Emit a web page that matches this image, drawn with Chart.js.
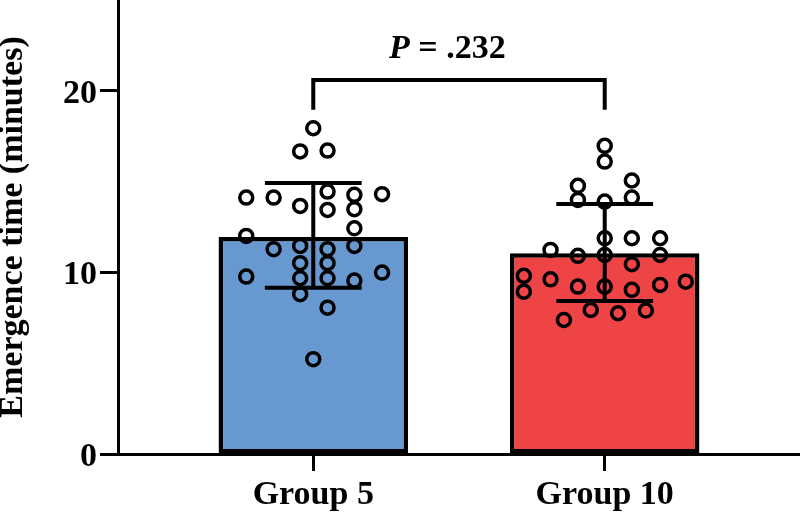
<!DOCTYPE html>
<html>
<head>
<meta charset="utf-8">
<script src="https://cdn.jsdelivr.net/npm/chart.js@4.4.1/dist/chart.umd.min.js"></script>
<style>
    html, body { margin: 0; padding: 0; background: #fff; }
    #wrap { width: 800px; height: 516px; }
</style>
</head>
<body>
<div id="wrap"><canvas id="emergenceChart" width="800" height="516"></canvas></div>
<script>
// Data
const groups = ['Group 5', 'Group 10'];
const groupPos = [1, 2];
const means = [11.95, 11.06];
const errHigh = [14.92, 13.77];
const errLow = [9.16, 8.43];
const barColors = ['#6898d0', '#ee4446'];

const group5Values = [17.94, 16.66, 16.71, 14.12, 14.12, 13.66, 14.45, 13.44, 14.27, 13.48, 14.31, 12.43, 12.01, 11.28,
    11.46, 11.28, 11.46, 10.51, 10.51, 9.77, 9.68, 9.68, 9.99, 9.55, 8.80, 8.06, 5.22];
const group5Jitter = [0, -0.045, 0.049, -0.23, -0.136, -0.045, 0.049, 0.049, 0.141, 0.141, 0.236, 0.141, -0.23, -0.136,
    -0.045, 0.049, 0.141, -0.045, 0.049, -0.23, -0.045, 0.049, 0.236, 0.141, -0.045, 0.049, 0];

const group10Values = [16.97, 16.10, 14.77, 13.99, 15.06, 14.12, 13.90, 11.88, 11.88, 11.88, 11.24, 10.91, 10.96, 10.96,
    10.45, 9.81, 8.94, 9.62, 9.22, 9.22, 9.04, 9.31, 9.49, 7.38, 7.93, 7.75, 7.90];
const group10Jitter = [0, 0, -0.092, -0.092, 0.093, 0.093, 0, 0, 0.093, 0.19, -0.186, -0.092, 0, 0.19,
    0.093, -0.2775, -0.2775, -0.186, -0.092, 0, 0.093, 0.19, 0.278, -0.14, -0.048, 0.046, 0.141];

const yTicks = [0, 10, 20];
const pText = '= .232';
const bracketTop = 20.6;
const bracketBottom = 18.95;

const FONT = '"Liberation Serif", "Times New Roman", serif';

function toPoints(values, jitter, center) {
    return values.map((v, i) => ({ x: center + jitter[i], y: v }));
}

// Error bars (mean +/- SD) drawn right after the bars
const errorBarPlugin = {
    id: 'errorBars',
    afterDatasetDraw(chart, args) {
        if (args.index !== 0) return;
        const ctx = chart.ctx;
        const xs = chart.scales.x;
        const ys = chart.scales.y;
        ctx.save();
        ctx.strokeStyle = '#000';
        ctx.lineWidth = 4;
        ctx.lineCap = 'butt';
        groupPos.forEach((g, i) => {
            const cx = xs.getPixelForValue(g);
            const capL = xs.getPixelForValue(g - 0.166);
            const capR = xs.getPixelForValue(g + 0.166);
            const yHi = ys.getPixelForValue(errHigh[i]);
            const yLo = ys.getPixelForValue(errLow[i]);
            ctx.beginPath();
            ctx.moveTo(cx, yHi);
            ctx.lineTo(cx, yLo);
            ctx.moveTo(capL, yHi);
            ctx.lineTo(capR, yHi);
            ctx.moveTo(capL, yLo);
            ctx.lineTo(capR, yLo);
            ctx.stroke();
        });
        ctx.restore();
    }
};

// Significance bracket with P value
const bracketPlugin = {
    id: 'bracket',
    afterDraw(chart) {
        const ctx = chart.ctx;
        const xs = chart.scales.x;
        const ys = chart.scales.y;
        const x1 = xs.getPixelForValue(groupPos[0]);
        const x2 = xs.getPixelForValue(groupPos[1]);
        const yT = ys.getPixelForValue(bracketTop);
        const yB = ys.getPixelForValue(bracketBottom);
        ctx.save();
        ctx.strokeStyle = '#000';
        ctx.lineWidth = 4;
        ctx.lineJoin = 'miter';
        ctx.beginPath();
        ctx.moveTo(x1, yB);
        ctx.lineTo(x1, yT);
        ctx.lineTo(x2, yT);
        ctx.lineTo(x2, yB);
        ctx.stroke();

        // text: italic P then the rest
        const pFont = 'italic bold 34px ' + FONT;
        const restFont = 'bold 34px ' + FONT;
        ctx.font = pFont;
        const wP = ctx.measureText('P ').width;
        ctx.font = restFont;
        const wR = ctx.measureText(pText).width;
        const cx = xs.getPixelForValue(1.46);
        const baseY = ys.getPixelForValue(21.82);
        let startX = cx - (wP + wR) / 2;
        ctx.fillStyle = '#000';
        ctx.textBaseline = 'alphabetic';
        ctx.textAlign = 'left';
        ctx.font = pFont;
        ctx.fillText('P ', startX, baseY);
        ctx.font = restFont;
        ctx.fillText(pText, startX + wP, baseY);
        ctx.restore();
    }
};

function loadChart() {
    const ctx = document.getElementById('emergenceChart');
    const pointStyle = {
        type: 'scatter',
        pointRadius: 6.5,
        pointHoverRadius: 6.5,
        pointBorderWidth: 3.5,
        pointBorderColor: '#000',
        pointBackgroundColor: 'rgba(0,0,0,0)',
        showLine: false
    };

    new Chart(ctx, {
        type: 'bar',
        data: {
            datasets: [{
                type: 'bar',
                data: groupPos.map((g, i) => ({ x: g, y: means[i] })),
                backgroundColor: barColors,
                borderColor: '#000',
                borderWidth: 4.5,
                borderSkipped: false,
                barPercentage: 0.65,
                categoryPercentage: 1,
                order: 3
            }, Object.assign({
                data: toPoints(group5Values, group5Jitter, groupPos[0]),
                order: 1
            }, pointStyle), Object.assign({
                data: toPoints(group10Values, group10Jitter, groupPos[1]),
                order: 2
            }, pointStyle)]
        },
        options: {
            responsive: false,
            animation: false,
            devicePixelRatio: 1,
            layout: { padding: 0, autoPadding: false },
            plugins: {
                legend: { display: false },
                tooltip: { enabled: false }
            },
            scales: {
                x: {
                    type: 'linear',
                    min: 0.33,
                    max: 2.67,
                    offset: false,
                    afterBuildTicks: function (scale) {
                        scale.ticks = groupPos.map(v => ({ value: v }));
                    },
                    afterFit: function (scale) {
                        scale.height = 62;
                        scale.paddingLeft = 0;
                        scale.paddingRight = 0;
                    },
                    ticks: {
                        color: '#000',
                        padding: 4,
                        maxRotation: 0,
                        autoSkip: false,
                        font: { family: FONT, size: 34, weight: 'bold' },
                        callback: function (value) {
                            const i = groupPos.indexOf(value);
                            return i >= 0 ? groups[i] : '';
                        }
                    },
                    grid: {
                        offset: false,
                        drawOnChartArea: false,
                        drawTicks: true,
                        tickLength: 17,
                        tickWidth: 3,
                        tickColor: '#000'
                    },
                    border: { display: true, color: '#000', width: 3 }
                },
                y: {
                    min: 0,
                    max: 25,
                    afterBuildTicks: function (scale) {
                        scale.ticks = yTicks.map(v => ({ value: v }));
                    },
                    afterFit: function (scale) {
                        scale.width = 118;
                        scale.paddingTop = 0;
                        scale.paddingBottom = 0;
                    },
                    ticks: {
                        color: '#000',
                        padding: 3,
                        labelOffset: 3,
                        font: { family: FONT, size: 34, weight: 'bold' }
                    },
                    grid: {
                        drawOnChartArea: false,
                        drawTicks: true,
                        tickLength: 18,
                        tickWidth: 3,
                        tickColor: '#000'
                    },
                    border: { display: true, color: '#000', width: 3 },
                    title: {
                        display: true,
                        text: 'Emergence time (minutes)',
                        color: '#000',
                        padding: 0,
                        font: { family: FONT, size: 34, weight: 'bold', lineHeight: 0.8 }
                    }
                }
            }
        },
        plugins: [errorBarPlugin, bracketPlugin]
    });
}

loadChart();
</script>
</body>
</html>
